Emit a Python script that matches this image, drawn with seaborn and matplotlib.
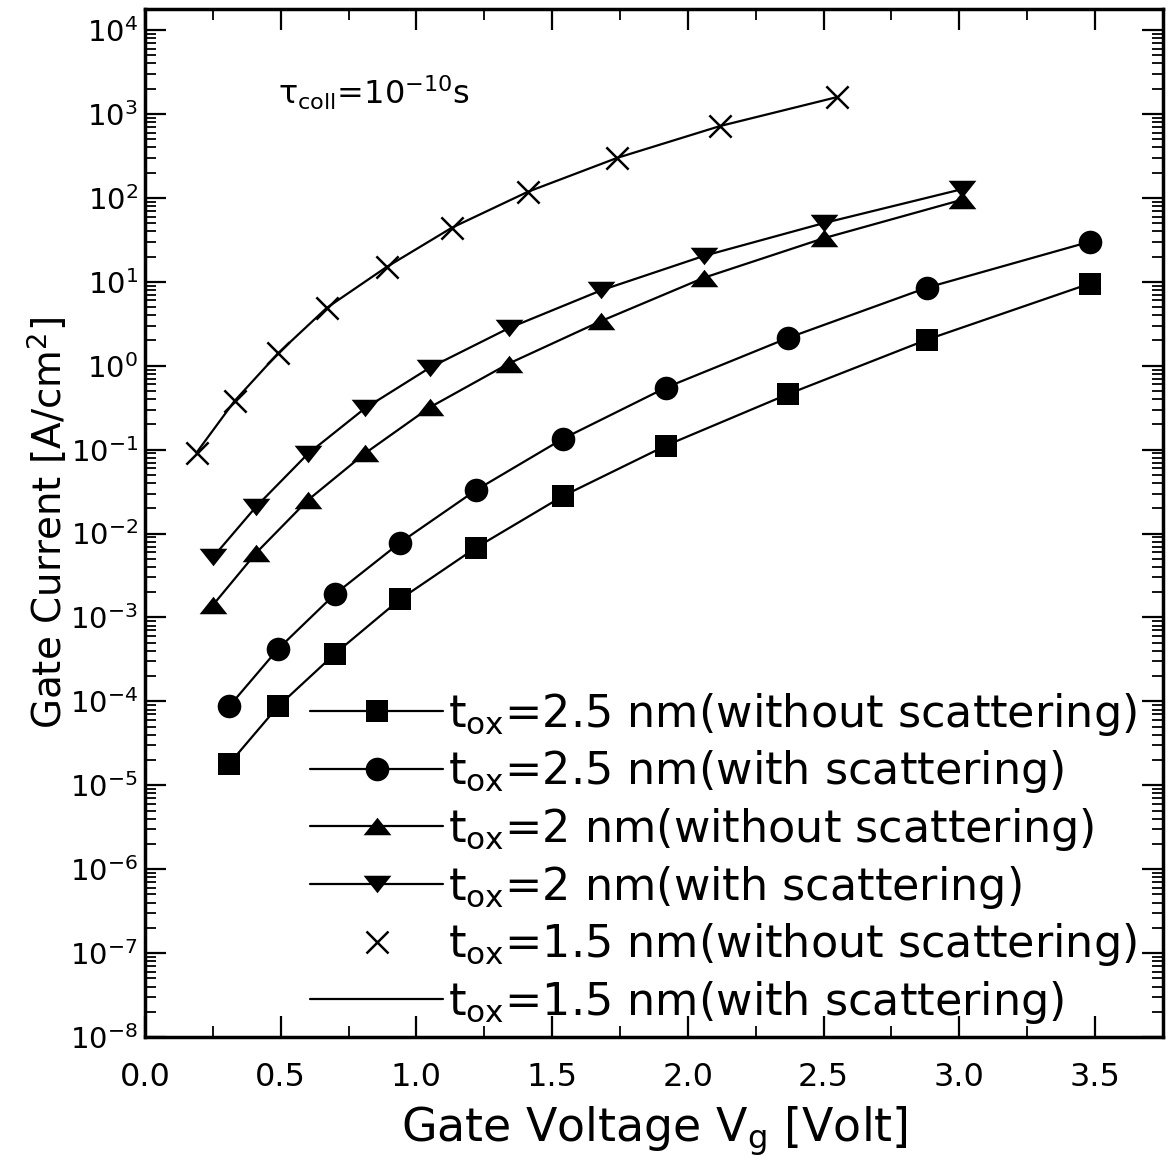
import numpy as np
import matplotlib
matplotlib.use("Agg")
import matplotlib.pyplot as plt
import seaborn as sns
from matplotlib.path import Path
from matplotlib.lines import Line2D
from matplotlib.ticker import FixedLocator, FuncFormatter, MultipleLocator, NullFormatter

# Gate voltages [V] and gate current densities [A/cm^2]
vg_15nm = [0.19, 0.33, 0.49, 0.67, 0.89, 1.13, 1.41, 1.74, 2.12, 2.55]
j_15nm_noscat = [0.092, 0.38, 1.4, 4.9, 15, 44, 118, 300, 720, 1590]
j_15nm_scat = [0.092, 0.38, 1.4, 4.9, 15, 44, 118, 300, 720, 1590]

vg_2nm = [0.25, 0.41, 0.60, 0.81, 1.05, 1.34, 1.68, 2.06, 2.50, 3.01]
j_2nm_noscat = [0.0014, 0.0059, 0.025, 0.090, 0.32, 1.06, 3.4, 11.2, 33, 95]
j_2nm_scat = [0.0052, 0.021, 0.089, 0.31, 0.95, 2.8, 7.9, 20.4, 50, 127]

vg_25nm = [0.31, 0.49, 0.70, 0.94, 1.22, 1.54, 1.92, 2.37, 2.88, 3.48]
j_25nm_noscat = [1.8e-5, 8.7e-5, 3.7e-4, 1.65e-3, 6.8e-3, 0.028, 0.112, 0.46, 2.04, 9.5]
j_25nm_scat = [8.7e-5, 4.2e-4, 1.9e-3, 7.8e-3, 0.033, 0.135, 0.55, 2.15, 8.5, 30]

labels = [
    r"$t_{ox}$=2.5 nm(without scattering)",
    r"$t_{ox}$=2.5 nm(with scattering)",
    r"$t_{ox}$=2 nm(without scattering)",
    r"$t_{ox}$=2 nm(with scattering)",
    r"$t_{ox}$=1.5 nm(without scattering)",
    r"$t_{ox}$=1.5 nm(with scattering)",
]

sns.set_style("ticks")
plt.rcParams["font.family"] = ["DejaVu Sans"]
plt.rcParams["mathtext.default"] = "regular"
for key in ("text.color", "axes.labelcolor", "xtick.color", "ytick.color",
            "axes.edgecolor"):
    plt.rcParams[key] = "black"

# flattened triangles
tri_up = Path([(-1, -0.63), (1, -0.63), (0, 0.63), (-1, -0.63)],
              [Path.MOVETO, Path.LINETO, Path.LINETO, Path.CLOSEPOLY])
tri_dn = Path([(-1, 0.63), (1, 0.63), (0, -0.63), (-1, 0.63)],
              [Path.MOVETO, Path.LINETO, Path.LINETO, Path.CLOSEPOLY])

fig = plt.figure(figsize=(11.69, 11.63), dpi=100)
ax = fig.add_axes([0.124, 0.1083, 0.8708, 0.8839])

lw = 1.6
common = dict(ax=ax, color="black", linewidth=lw, estimator=None, sort=False,
              legend=False, markeredgewidth=0, markerfacecolor="black")

sns.lineplot(x=vg_25nm, y=j_25nm_noscat, marker="s", markersize=16, **common)
sns.lineplot(x=vg_25nm, y=j_25nm_scat, marker="o", markersize=17, **common)
sns.lineplot(x=vg_2nm, y=j_2nm_noscat, marker=tri_up, markersize=20, **common)
sns.lineplot(x=vg_2nm, y=j_2nm_scat, marker=tri_dn, markersize=20, **common)
sns.lineplot(x=vg_15nm, y=j_15nm_scat, ax=ax, color="black", linewidth=lw,
             estimator=None, sort=False, legend=False)
sns.scatterplot(x=vg_15nm, y=j_15nm_noscat, ax=ax, marker="x", s=16 ** 2,
                color="black", linewidth=1.8, legend=False)

ax.set_yscale("log")
ax.set_xlim(0, 3.75)
ax.set_ylim(1e-8, 10 ** 4.25)

ax.yaxis.set_major_locator(FixedLocator([10.0 ** k for k in range(-8, 5)]))
ax.yaxis.set_minor_locator(FixedLocator(
    [m * 10.0 ** k for k in range(-8, 5) for m in range(2, 10)]))
ax.yaxis.set_major_formatter(FuncFormatter(
    lambda v, p: r"$10^{%d}$" % int(round(np.log10(v)))))
ax.yaxis.set_minor_formatter(NullFormatter())
ax.xaxis.set_major_locator(MultipleLocator(0.5))
ax.xaxis.set_minor_locator(MultipleLocator(0.25))
ax.xaxis.set_major_formatter(FuncFormatter(lambda v, p: "%.1f" % v))

ax.tick_params(which="both", direction="in", top=True, right=True, color="black")
ax.tick_params(which="major", length=15, width=1.6)
ax.tick_params(which="minor", length=8, width=1.3)
ax.tick_params(axis="x", which="major", labelsize=23, pad=18)
ax.tick_params(axis="y", which="major", labelsize=21, pad=5)
for s in ax.spines.values():
    s.set_linewidth(2.5)
    s.set_color("black")

ax.set_xlabel(r"Gate Voltage V$_g$ [Volt]", fontsize=33, labelpad=8)
ax.set_ylabel(r"Gate Current [A/cm$^2$]", fontsize=28, labelpad=0)

ax.text(0.131, 0.918, r"$\tau_{coll}$=10$^{-10}$s", transform=ax.transAxes,
        fontsize=23, ha="left", va="center")

handles = [
    Line2D([], [], color="black", lw=lw, marker="s", markersize=16, markeredgewidth=0),
    Line2D([], [], color="black", lw=lw, marker="o", markersize=17, markeredgewidth=0),
    Line2D([], [], color="black", lw=lw, marker=tri_up, markersize=20, markeredgewidth=0),
    Line2D([], [], color="black", lw=lw, marker=tri_dn, markersize=20, markeredgewidth=0),
    Line2D([], [], color="black", lw=0, linestyle="none", marker="x", markersize=16,
           markeredgewidth=1.8),
    Line2D([], [], color="black", lw=lw),
]
ax.legend(handles, labels, loc="upper left", bbox_to_anchor=(0.162, 0.337),
          frameon=False, fontsize=32, handlelength=3.0, handletextpad=0.1,
          labelspacing=0.24, borderpad=0, borderaxespad=0)

fig.savefig("out.png", dpi=100)
